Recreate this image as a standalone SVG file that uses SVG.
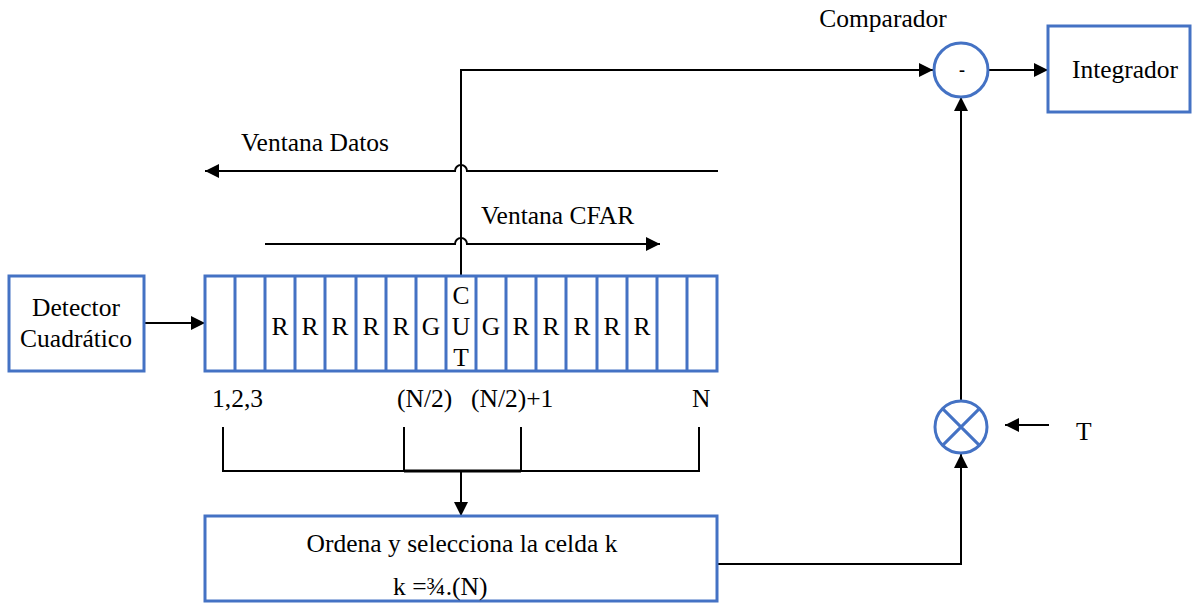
<svg xmlns="http://www.w3.org/2000/svg" width="1194" height="604" viewBox="0 0 1194 604">
  <style>
    .box { fill: #ffffff; stroke: #4472C4; stroke-width: 3; }
    .cell { stroke: #4472C4; stroke-width: 3; }
    .wire { fill: none; stroke: #000000; stroke-width: 2; }
    .arrow { fill: none; stroke: #000000; stroke-width: 2; marker-end: url(#head); }
    text { font-family: "Liberation Serif", "Times New Roman", serif; font-size: 25.5px; fill: #000000; }
    .mid { text-anchor: middle; }
    .minus { font-size: 18px; font-weight: bold; }
  </style>
  <defs>
    <marker id="head" markerUnits="userSpaceOnUse" markerWidth="14" markerHeight="14" refX="14" refY="7" orient="auto">
      <path d="M0,0 L14,7 L0,14 z" fill="#000000"/>
    </marker>
  </defs>
  <rect width="1194" height="604" fill="#ffffff"/>

  <!-- connectors -->
  <g id="connectors">
    <!-- CUT output to comparator -->
    <path class="arrow" d="M461,276 V70 H933"/>
    <!-- data window (hops over the CUT line) -->
    <path class="arrow" d="M718,171 H467 A6,6 0 0 0 455,171 H205"/>
    <!-- CFAR window (hops over the CUT line) -->
    <path class="arrow" d="M265,244 H455 A6,6 0 0 1 467,244 H660"/>
    <!-- detector to cell array -->
    <path class="arrow" d="M144,323 H205"/>
    <!-- comparator to integrator -->
    <path class="arrow" d="M989,70 H1048"/>
    <!-- multiplier to comparator -->
    <path class="arrow" d="M961,401 V97"/>
    <!-- threshold input -->
    <path class="arrow" d="M1049,425 H1005"/>
    <!-- selected cell to multiplier -->
    <path class="arrow" d="M717,564 H961 V454"/>
    <!-- cell bracket -->
    <path class="wire" d="M223,427 V471 H699 V427"/>
    <path class="wire" d="M404,427 V471"/>
    <path class="wire" d="M521,427 V471"/>
    <path class="wire" style="stroke-width:3" d="M404,471 H521"/>
    <path class="arrow" d="M461,471 V516"/>
  </g>

  <!-- square-law detector -->
  <g id="detector">
    <rect class="box" x="9" y="276" width="135" height="95"/>
    <text class="mid" x="76" y="316">Detector</text>
    <text class="mid" x="76" y="347">Cuadrático</text>
  </g>

  <!-- cell array -->
  <g id="cells">
    <rect class="box" x="205" y="276" width="512" height="95"/>
    <path class="cell" d="M235,276 V371 M265,276 V371 M295,276 V371 M325,276 V371 M356,276 V371 M386,276 V371 M416,276 V371 M446,276 V371 M476,276 V371 M506,276 V371 M536,276 V371 M566,276 V371 M597,276 V371 M627,276 V371 M657,276 V371 M687,276 V371"/>
    <text class="mid" x="280" y="335">R</text>
    <text class="mid" x="310" y="335">R</text>
    <text class="mid" x="340" y="335">R</text>
    <text class="mid" x="371" y="335">R</text>
    <text class="mid" x="401" y="335">R</text>
    <text class="mid" x="431" y="335">G</text>
    <text class="mid" x="461" y="304">C</text>
    <text class="mid" x="461" y="335">U</text>
    <text class="mid" x="461" y="366">T</text>
    <text class="mid" x="491" y="335">G</text>
    <text class="mid" x="521" y="335">R</text>
    <text class="mid" x="551" y="335">R</text>
    <text class="mid" x="582" y="335">R</text>
    <text class="mid" x="612" y="335">R</text>
    <text class="mid" x="642" y="335">R</text>
  </g>

  <!-- window labels -->
  <g id="labels">
    <text x="241" y="151">Ventana Datos</text>
    <text x="481" y="224">Ventana CFAR</text>
    <text x="212" y="407">1,2,3</text>
    <text x="397" y="407">(N/2)</text>
    <text x="471" y="407">(N/2)+1</text>
    <text x="692" y="407">N</text>
  </g>

  <!-- ordering / selection block -->
  <g id="ordena">
    <rect class="box" x="205" y="516" width="512" height="85"/>
    <text class="mid" x="462" y="552">Ordena y selecciona la celda k</text>
    <text x="393" y="595">k =¾.(N)</text>
  </g>

  <!-- comparator -->
  <g id="comparador">
    <text class="mid" x="883" y="27">Comparador</text>
    <circle class="box" cx="961" cy="70" r="27"/>
    <text class="mid minus" x="962" y="76">-</text>
  </g>

  <!-- integrator -->
  <g id="integrador">
    <rect class="box" x="1048" y="26" width="142" height="86"/>
    <text class="mid" x="1125" y="78">Integrador</text>
  </g>

  <!-- multiplier -->
  <g id="multiplicador">
    <circle class="box" cx="961" cy="427" r="26"/>
    <path class="cell" d="M942.6,408.6 L979.4,445.4 M979.4,408.6 L942.6,445.4"/>
  </g>

  <!-- threshold factor -->
  <g id="umbral">
    <text x="1076" y="440">T</text>
  </g>
</svg>
